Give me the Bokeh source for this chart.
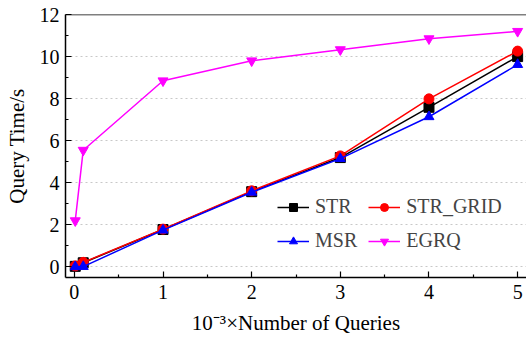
from bokeh.plotting import figure
from bokeh.models import Range1d, Legend, LegendItem, FixedTicker, Span
from bokeh.embed import file_html
from bokeh.resources import INLINE

# Number of queries (in thousands)
queries = [0.01, 0.1, 1, 2, 3, 4, 5]

# Query time in seconds for each method
str_time = [0.03, 0.2, 1.78, 3.58, 5.2, 7.59, 10.0]
str_grid_time = [0.05, 0.22, 1.8, 3.62, 5.28, 7.99, 10.26]
msr_time = [0.01, 0.02, 1.75, 3.55, 5.15, 7.14, 9.62]
egrq_time = [2.2, 5.55, 8.85, 9.8, 10.33, 10.85, 11.2]

series_names = ["STR", "STR_GRID", "MSR", "EGRQ"]

FONT = "Liberation Serif"

p = figure(width=526, height=337, output_backend="svg", toolbar_location=None,
           x_range=Range1d(-0.1, 5.1), y_range=Range1d(-0.5, 12),
           min_border_left=65, min_border_right=0, min_border_top=14, min_border_bottom=60)
p.outline_line_color = None
p.background_fill_color = "white"
p.border_fill_color = "white"

# Horizontal dotted grid only
p.xgrid.grid_line_color = None
p.ygrid.grid_line_color = "#c8c8c8"
p.ygrid.grid_line_dash = "2 3"
p.ygrid.grid_line_width = 1
p.ygrid.ticker = FixedTicker(ticks=[0, 2, 4, 6, 8, 10])

xa = p.xaxis[0]
xa.ticker = FixedTicker(ticks=[0, 1, 2, 3, 4, 5], minor_ticks=[0.5, 1.5, 2.5, 3.5, 4.5])
xa.axis_label = "10\u207b\u00b3\u00d7Number of Queries"
ya = p.yaxis[0]
ya.ticker = FixedTicker(ticks=[0, 2, 4, 6, 8, 10, 12], minor_ticks=[1, 3, 5, 7, 9, 11])
ya.axis_label = "Query Time/s"

for ax in (xa, ya):
    ax.axis_line_width = 1.5
    ax.axis_line_color = "black"
    ax.major_tick_in = 6
    ax.major_tick_out = 0
    ax.minor_tick_in = 3
    ax.minor_tick_out = 0
    ax.major_tick_line_width = 1.2
    ax.minor_tick_line_width = 1.2
    ax.major_label_text_font = FONT
    ax.major_label_text_font_size = "20px"
    ax.major_label_text_color = "black"
    ax.axis_label_text_font = FONT
    ax.axis_label_text_font_size = "21px"
    ax.axis_label_text_font_style = "normal"
    ax.axis_label_text_color = "black"

xa.major_label_standoff = 7
xa.axis_label_standoff = 9
ya.major_label_standoff = 6
ya.axis_label_standoff = 8

# Top frame line
p.add_layout(Span(location=12, dimension="width", line_color="black", line_width=1.5))

styles = [
    (str_time, "black", "square"),
    (str_grid_time, "#ff0000", "circle"),
    (msr_time, "#0000ff", "triangle"),
    (egrq_time, "#ff00ff", "inverted_triangle"),
]

items = {}
for name, (ys, color, marker) in zip(series_names, styles):
    ln = p.line(queries, ys, line_color=color, line_width=1.5)
    sc = p.scatter(queries, ys, marker=marker, size=10, fill_color=color, line_color=color)
    items[name] = LegendItem(label=name, renderers=[ln, sc])

# Legend fills column by column: STR/MSR on the left, STR_GRID/EGRQ on the right
legend = Legend(items=[items["STR"], items["MSR"], items["STR_GRID"], items["EGRQ"]],
                ncols=2, location=(212, 25),
                label_text_font=FONT, label_text_font_size="20px",
                glyph_width=32, glyph_height=20, label_standoff=6,
                spacing=11, padding=0, margin=0,
                border_line_color=None, background_fill_alpha=0)
p.add_layout(legend, "center")

with open("out.html", "w") as f:
    f.write(file_html(p, INLINE))
